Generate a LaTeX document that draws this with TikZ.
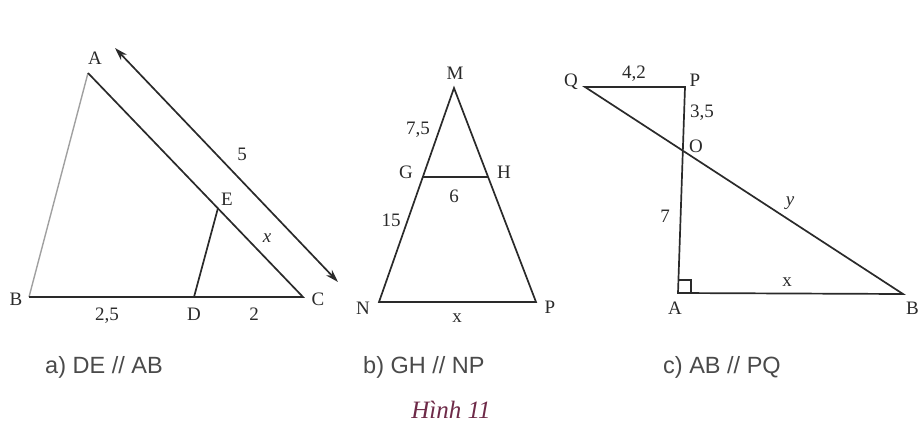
\documentclass[tikz,border=0pt]{standalone}
\usepackage{fontspec}
\setmainfont{Liberation Serif}
\newfontfamily\capfont{Liberation Sans}
\usetikzlibrary{arrows.meta,calc}
\definecolor{ink}{HTML}{2A2A2A}
\definecolor{lightink}{HTML}{A0A0A0}
\definecolor{hinh}{HTML}{6E2A48}
\tikzset{
  edge/.style={draw=ink,line width=1.7pt},
  faint/.style={draw=lightink,line width=1.4pt},
  vlbl/.style={inner sep=0pt,text=ink,font=\fontsize{19}{21}\selectfont},
  nlbl/.style={inner sep=0pt,text=ink,font=\fontsize{19}{21}\selectfont},
  captxt/.style={inner sep=0pt,text=ink!85,font=\capfont\fontsize{23.5}{26}\selectfont},
}
\begin{document}
\begin{tikzpicture}[x=1pt,y=-1pt]
\useasboundingbox (0,0) rectangle (920,426);
% ---------- figure a ----------
\coordinate (aA) at (88,73);
\coordinate (aB) at (29,297);
\coordinate (aC) at (303,297);
\coordinate (aD) at (194,297);
\coordinate (aE) at (218,208);
\coordinate (aT1) at (115,48);
\coordinate (aT2) at (338,282);
\draw[faint] (aA) -- (aB);
\draw[edge] (aB) -- (aC) -- (aA);
\draw[edge] (aD) -- (aE);
\draw[edge,{Stealth[length=13pt,width=8pt]}-{Stealth[length=13pt,width=8pt]}] (aT1) -- (aT2);
\node[vlbl] (laA) at (95,58) {A};
\node[vlbl] (laB) at (16,299) {B};
\node[vlbl] (laC) at (318,299) {C};
\node[vlbl] (laD) at (194,314) {D};
\node[vlbl] (laE) at (227,199) {E};
\node[nlbl] (la25) at (107,316) {2,5};
\node[nlbl] (la2) at (254,314) {2};
\node[nlbl] (lax) at (267,238) {\itshape x};
\node[nlbl] (la5) at (242,154) {5};
% ---------- figure b ----------
\coordinate (bM) at (454,88);
\coordinate (bN) at (379,302);
\coordinate (bP) at (536,302);
\coordinate (bG) at ($(bM)!0.416!(bN)$);
\coordinate (bH) at ($(bM)!0.416!(bP)$);
\draw[edge] (bM) -- (bN) -- (bP) -- cycle;
\draw[edge] (bG) -- (bH);
\node[vlbl] (lbM) at (455,73) {M};
\node[vlbl] (lbN) at (363,308) {N};
\node[vlbl] (lbP) at (550,307) {P};
\node[vlbl] (lbG) at (406,172) {G};
\node[vlbl] (lbH) at (504,172) {H};
\node[nlbl] (lb75) at (418,130) {7,5};
\node[nlbl] (lb15) at (391,220) {15};
\node[nlbl] (lb6) at (454,196) {6};
\node[nlbl] (lbx) at (457,318) {x};
% ---------- figure c ----------
\coordinate (cQ) at (585,87);
\coordinate (cP) at (685,87);
\coordinate (cA) at (678,293);
\coordinate (cB) at (903,294);
\coordinate (cO) at (intersection of cQ--cB and cP--cA);
\draw[edge] (cQ) -- (cP) -- (cA) -- (cB) -- cycle;
\draw[edge,line width=1.2pt] ([shift={(0,-13)}]cA) -| ([shift={(13,0)}]cA);
\node[vlbl] (lcQ) at (571,82) {Q};
\node[vlbl] (lcP) at (695,80) {P};
\node[vlbl] (lcO) at (696,146) {O};
\node[vlbl] (lcA) at (675,308) {A};
\node[vlbl,anchor=east] (lcB) at (919,308) {B};
\node[nlbl] (lc42) at (634,74) {4,2};
\node[nlbl] (lc35) at (702,113) {3,5};
\node[nlbl] (lc7) at (665,216) {7};
\node[nlbl] (lcy) at (790,203) {\itshape y};
\node[nlbl] (lcx) at (787,282) {x};
% ---------- captions ----------
\node[captxt,anchor=west] (capa) at (45,367) {a) DE // AB};
\node[captxt,anchor=west] (capb) at (363,367) {b) GH // NP};
\node[captxt,anchor=west] (capc) at (663,367) {c) AB // PQ};
\node[inner sep=0pt,text=hinh,font=\fontsize{25}{27}\selectfont\itshape] (hinh) at (451,410) {Hình 11};
\end{tikzpicture}
\end{document}
